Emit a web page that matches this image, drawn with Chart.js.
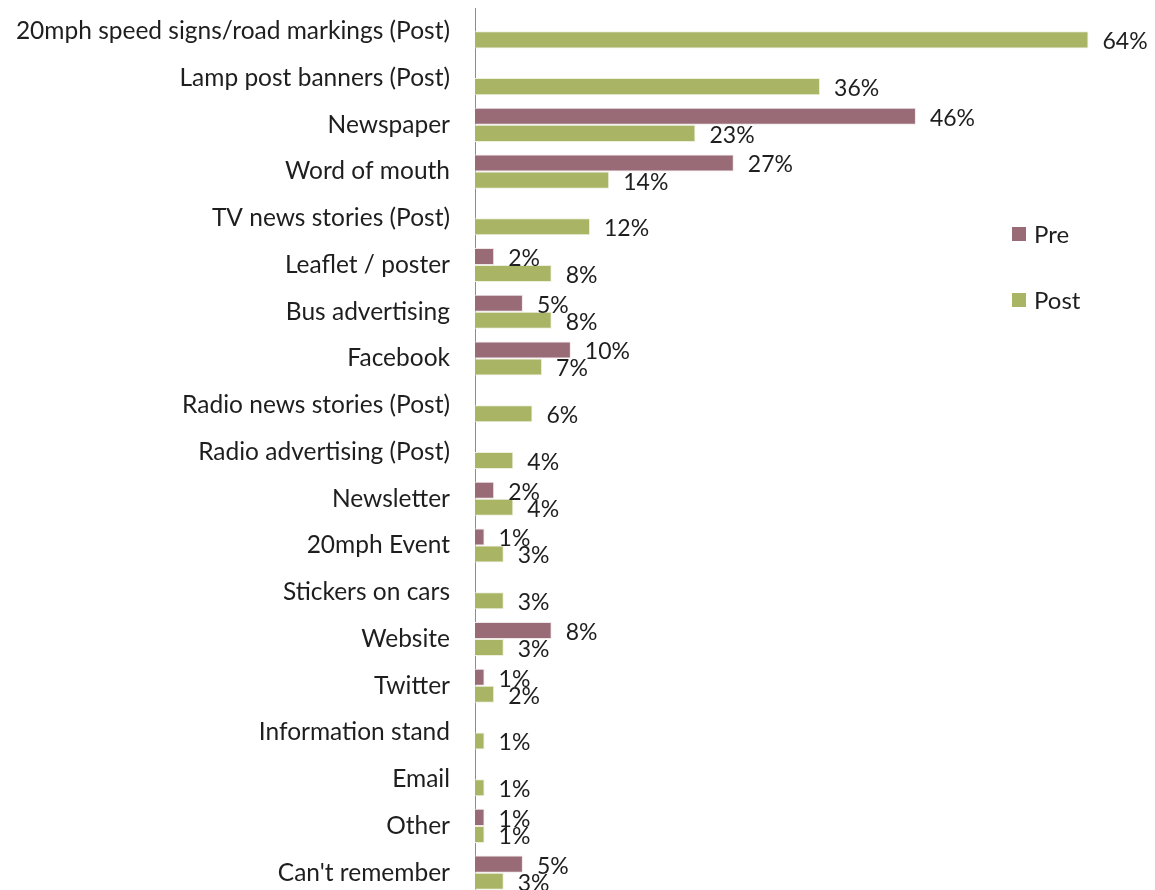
<!DOCTYPE html>
<html>
<head>
<meta charset="utf-8">
<script src="https://cdn.jsdelivr.net/npm/chart.js@4/dist/chart.umd.min.js"></script>
<style>
  html, body { margin: 0; padding: 0; background: #fff; overflow: hidden; }
  canvas { display: block; }
</style>
</head>
<body>
<canvas id="awarenessChart" width="1155" height="900"></canvas>
<script>
// Источники информации о 20mph, до и после кампании
const categories = [
    '20mph speed signs/road markings (Post)',
    'Lamp post banners (Post)',
    'Newspaper',
    'Word of mouth',
    'TV news stories (Post)',
    'Leaflet / poster',
    'Bus advertising',
    'Facebook',
    'Radio news stories (Post)',
    'Radio advertising (Post)',
    'Newsletter',
    '20mph Event',
    'Stickers on cars',
    'Website',
    'Twitter',
    'Information stand',
    'Email',
    'Other',
    "Can't remember"
];
const preValues  = [null, null, 46, 27, null, 2, 5, 10, null, null, 2, 1, null, 8, 1, null, null, 1, 5];
const postValues = [64, 36, 23, 14, 12, 8, 8, 7, 6, 4, 4, 3, 3, 3, 2, 1, 1, 1, 3];
const seriesNames = ['Pre', 'Post'];

const FONT = 'Lato, "Liberation Sans", sans-serif';
const TEXT_COLOR = '#1e1e1e';

// Подписи значений у конца столбцов
const valueLabels = {
    id: 'valueLabels',
    afterDatasetsDraw(chart) {
        const ctx = chart.ctx;
        ctx.save();
        ctx.font = '23px ' + FONT;
        ctx.fillStyle = TEXT_COLOR;
        ctx.textAlign = 'left';
        ctx.textBaseline = 'middle';
        chart.data.datasets.forEach((ds, i) => {
            const meta = chart.getDatasetMeta(i);
            meta.data.forEach((bar, j) => {
                const v = ds.data[j];
                if (v === null || v === undefined) return;
                ctx.fillText(v + '%', bar.x + 14, bar.y + 2);
            });
        });
        ctx.restore();
    }
};

// Легенда внутри области графика, справа
const sideLegend = {
    id: 'sideLegend',
    afterDraw(chart) {
        const ctx = chart.ctx;
        const area = chart.chartArea;
        const x = area.right - 134;
        let y = area.top + 226;
        ctx.save();
        ctx.font = '24px ' + FONT;
        ctx.textBaseline = 'middle';
        chart.data.datasets.forEach(ds => {
            ctx.fillStyle = ds.backgroundColor;
            ctx.fillRect(x, y - 7, 14, 14);
            ctx.fillStyle = TEXT_COLOR;
            ctx.fillText(ds.label, x + 22, y + 1);
            y += 66;
        });
        ctx.restore();
    }
};

const ctx = document.getElementById('awarenessChart').getContext('2d');
new Chart(ctx, {
    type: 'bar',
    data: {
        labels: categories,
        datasets: [
            {
                label: seriesNames[0],
                data: preValues,
                backgroundColor: '#996b76',
                borderColor: '#efe6e8',
                borderWidth: 1,
                categoryPercentage: 0.73,
                barPercentage: 1
            },
            {
                label: seriesNames[1],
                data: postValues,
                backgroundColor: '#a9b464',
                borderColor: '#eef0de',
                borderWidth: 1,
                categoryPercentage: 0.73,
                barPercentage: 1
            }
        ]
    },
    options: {
        indexAxis: 'y',
        responsive: false,
        animation: false,
        layout: { padding: { top: 8, right: 9, bottom: 4, left: 0 } },
        plugins: {
            legend: { display: false },
            tooltip: { enabled: false }
        },
        scales: {
            x: {
                display: false,
                min: 0,
                max: 70
            },
            y: {
                grid: { display: false, drawTicks: false },
                border: { display: true, color: '#8c8c8c', width: 1 },
                ticks: {
                    color: TEXT_COLOR,
                    font: { family: FONT, size: 24.5 },
                    padding: 25,
                    autoSkip: false
                },
                afterFit(scale) {
                    // фиксированная ширина оси и без лишних отступов сверху/снизу
                    scale.width = 475;
                    scale.paddingTop = 0;
                    scale.paddingBottom = 0;
                }
            }
        }
    },
    plugins: [valueLabels, sideLegend]
});
</script>
</body>
</html>
